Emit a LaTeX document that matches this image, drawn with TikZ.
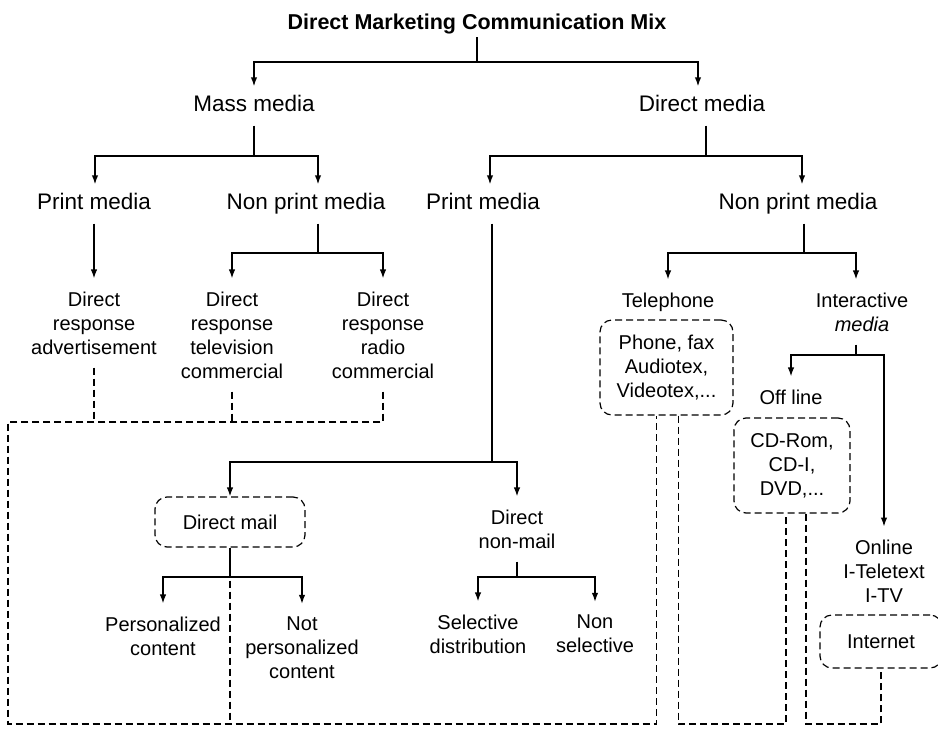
\documentclass[tikz,border=0pt]{standalone}
\usepackage{fontspec}
\setmainfont{Liberation Sans}
\usetikzlibrary{arrows.meta}

\begin{document}
\begin{tikzpicture}[x=1pt, y=-1pt,
    title/.style={font=\fontsize{21.5}{25}\selectfont\bfseries, inner sep=3pt},
    level/.style={font=\fontsize{22.5}{26}\selectfont, text height=16pt, text depth=5pt, inner xsep=2pt, inner ysep=9pt},
    leaf/.style={font=\fontsize{20}{24}\selectfont, align=center, inner xsep=2pt, inner ysep=13pt},
    group/.style={draw, line width=1.2pt, dash pattern=on 7pt off 4pt, rounded corners=12pt, font=\fontsize{20}{24}\selectfont, align=center, inner sep=0pt},
    tree/.style={line width=1.4pt, -{Latex[length=9pt,width=6.5pt]}},
    stem/.style={line width=1.4pt},
    link/.style={line width=1.2pt, dash pattern=on 7pt off 4pt}]

    % Fix the page to the size of the original
    \useasboundingbox (0,0) rectangle (938,732);

    % Title of the mix
    \node[title] (mix) at (477,24) {Direct Marketing Communication Mix};

    % Mass media and direct media
    \node[level] (mass) at (254,106) {Mass media};
    \node[level] (dmedia) at (702,106) {Direct media};

    % Print / non print on both sides
    \node[level] (printL) at (94,204) {Print media};
    \node[level] (npL) at (306,204) {Non print media};
    \node[level] (printR) at (483,204) {Print media};
    \node[level] (npR) at (798,204) {Non print media};

    % Mass media leaves
    \node[leaf] (ad) at (94,323) {Direct\\response\\advertisement};
    \node[leaf] (tv) at (232,335) {Direct\\response\\television\\commercial};
    \node[leaf] (radio) at (383,335) {Direct\\response\\radio\\commercial};

    % Telephone and interactive media
    \node[leaf] (tel) at (668,302) {Telephone};
    \node[leaf] (inter) at (862,312) {Interactive\\\textit{media}};
    \node[group, minimum width=133pt, minimum height=95pt] (phone) at (666.5,367.5) {Phone, fax\\Audiotex,\\Videotex,...};
    \node[leaf] (offline) at (791,397) {Off line};
    \node[group, minimum width=116pt, minimum height=95pt] (offbox) at (792,465.5) {CD-Rom,\\CD-I,\\DVD,...};
    \node[leaf] (online) at (884,571) {Online\\I-Teletext\\I-TV};
    \node[group, minimum width=122pt, minimum height=53pt] (inet) at (881,641.5) {Internet};

    % Direct mail and non-mail
    \node[group, minimum width=150pt, minimum height=50pt] (dmail) at (230,522) {Direct mail};
    \node[leaf] (nonmail) at (517,529) {Direct\\non-mail};
    \node[leaf] (pers) at (163,636) {Personalized\\content};
    \node[leaf] (notpers) at (302,648) {Not\\personalized\\content};
    \node[leaf] (sel) at (478,634) {Selective\\distribution};
    \node[leaf] (nonsel) at (595,634) {Non\\selective};

    % Branch points
    \coordinate (j0) at (477,62);
    \coordinate (j1) at (254,156);
    \coordinate (j2) at (706,156);
    \coordinate (j3) at (318,253);
    \coordinate (j4) at (492,462);
    \coordinate (j5) at (804,253);
    \coordinate (j6) at (856,355);
    \coordinate (j7) at (230,577);
    \coordinate (j8) at (517,577);

    % Ends of the dashed loops
    \coordinate (lc) at (8,422);
    \coordinate (base) at (0,724);
    \coordinate (telA) at ([xshift=-10pt]phone.south);
    \coordinate (telB) at ([xshift=12pt]phone.south);
    \coordinate (offA) at ([xshift=-6pt]offbox.south);
    \coordinate (offB) at ([xshift=14pt]offbox.south);

    % Dashed links between the media
    \draw[link] (ad) -- (ad |- lc);
    \draw[link] (tv) -- (tv |- lc);
    \draw[link] (radio) |- (lc) -- (lc |- base) -| (telA);
    \draw[link] (dmail) -- (dmail |- base);
    \draw[link] (telB) -- (telB |- base) -| (offA);
    \draw[link] (offB) -- (offB |- base) -| (inet);

    % Tree
    \draw[stem] (mix) -- (j0);
    \draw[tree] (j0) -| (mass);
    \draw[tree] (j0) -| ([xshift=-4pt]dmedia.north);
    \draw[stem] (mass) -- (j1);
    \draw[tree] (j1) -| ([xshift=1pt]printL.north);
    \draw[tree] (j1) -| ([xshift=12pt]npL.north);
    \draw[stem] (dmedia.south -| j2) -- (j2);
    \draw[tree] (j2) -| ([xshift=7pt]printR.north);
    \draw[tree] (j2) -| ([xshift=4pt]npR.north);
    \draw[tree] (printL) -- (ad);
    \draw[stem] (npL.south -| j3) -- (j3);
    \draw[tree] (j3) -| (tv);
    \draw[tree] (j3) -| (radio);
    \draw[stem] (printR.south -| j4) -- (j4);
    \draw[tree] (j4) -| (dmail);
    \draw[tree] (j4) -| (nonmail);
    \draw[stem] (npR.south -| j5) -- (j5);
    \draw[tree] (j5) -| (tel);
    \draw[tree] (j5) -| (inter.north -| j6);
    \draw[stem] (inter.south -| j6) -- (j6);
    \draw[tree] (j6) -| (offline);
    \draw[tree] (j6) -| (online);
    \draw[stem] (dmail) -- (j7);
    \draw[tree] (j7) -| (pers);
    \draw[tree] (j7) -| (notpers);
    \draw[stem] (nonmail) -- (j8);
    \draw[tree] (j8) -| (sel);
    \draw[tree] (j8) -| (nonsel);
\end{tikzpicture}
\end{document}
